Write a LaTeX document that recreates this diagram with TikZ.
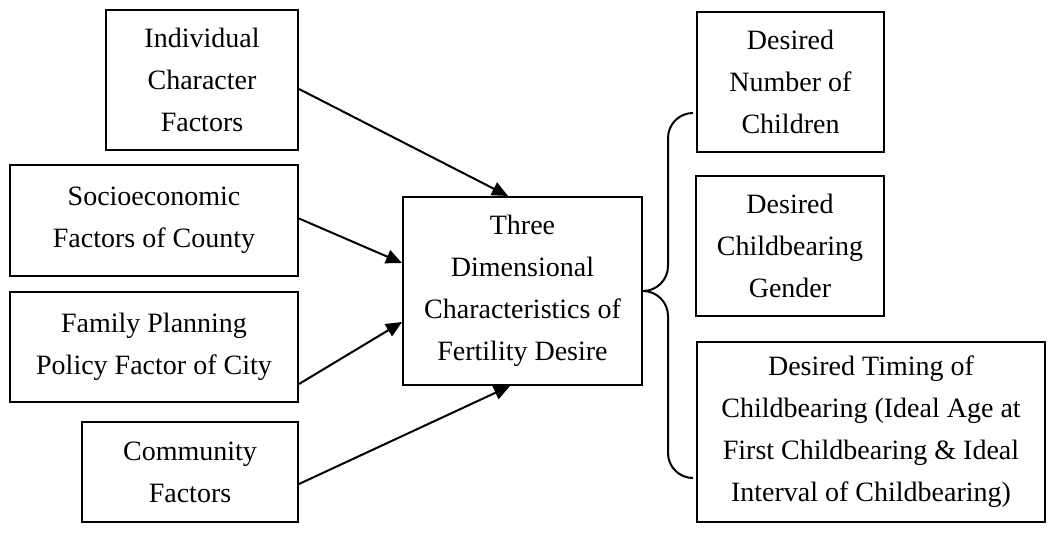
\documentclass[tikz,border=0pt]{standalone}
\usepackage{fontspec}
\setmainfont{Liberation Serif}
\usetikzlibrary{calc,arrows.meta}

\begin{document}
\begin{tikzpicture}[x=1pt,y=-1pt,
	line width=2pt,
	font=\fontsize{28pt}{42pt}\selectfont,
	box/.style={draw,rectangle,align=center,inner sep=0pt},
	arr/.style={-{Triangle[length=16pt,width=14pt]}},
	brc/.style={rounded corners=25pt}]
	
	\useasboundingbox (0,0) rectangle (1049,543);
	
	% Factors (left)
	\node[box,minimum width=192pt,minimum height=140pt] (ind) at (202,80)
	{Individual\\Character\\Factors};
	\node[box,minimum width=288pt,minimum height=111pt] (soc) at (154,220.5)
	{Socioeconomic\\Factors of County};
	\node[box,minimum width=288pt,minimum height=110pt] (fam) at (154,347)
	{Family Planning\\Policy Factor of City};
	\node[box,minimum width=216pt,minimum height=100pt] (com) at (190,472)
	{Community\\Factors};
	
	% Fertility desire (middle)
	\node[box,minimum width=239pt,minimum height=188pt] (three) at (522.5,291)
	{Three\\Dimensional\\Characteristics of\\Fertility Desire};
	
	% Three dimensions (right)
	\node[box,minimum width=187pt,minimum height=140pt] (num) at (790.5,82)
	{Desired\\Number of\\Children};
	\node[box,minimum width=188pt,minimum height=140pt] (gen) at (790,246)
	{Desired\\Childbearing\\Gender};
	\node[box,minimum width=348pt,minimum height=180pt] (tim) at (871,432)
	{Desired Timing of\\Childbearing (Ideal Age at\\First Childbearing \& Ideal\\Interval of Childbearing)};
	
	% Arrows into the middle box
	\draw[arr] ($(ind.east)+(0,9)$) -- ($(three.north)+(-14.5,0)$);
	\draw[arr] ($(soc.east)+(0,-2)$) -- ($(three.west)+(0,-28)$);
	\draw[arr] ($(fam.east)+(0,37)$) -- ($(three.west)+(0,31)$);
	\draw[arr] ($(com.east)+(0,12)$) -- ($(three.south)+(-12.5,0)$);
	
	% Brace to the right column
	\coordinate (btop) at (693,113);
	\coordinate (bbot) at (693,478);
	\draw[brc] (btop) -| ($(three.east)+(25,0)$) -- (three.east);
	\draw[brc] (three.east) -| ($(bbot)+(-25,0)$) -- (bbot);
	
\end{tikzpicture}
\end{document}
